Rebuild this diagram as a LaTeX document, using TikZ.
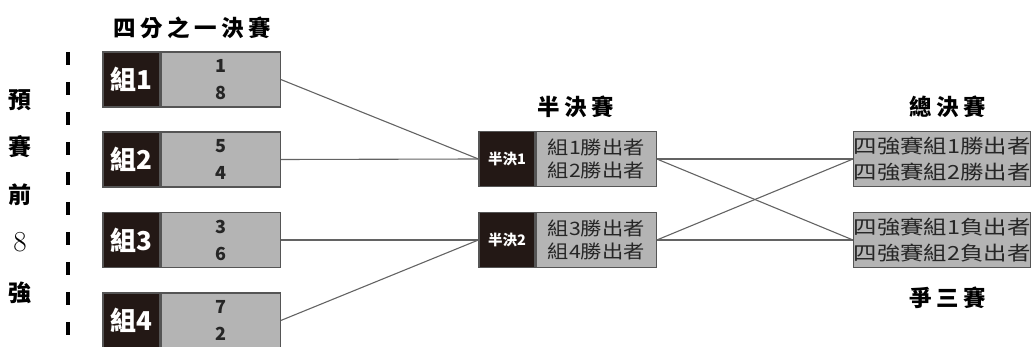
\documentclass[tikz,border=0pt]{standalone}
\usepackage{fontspec}
\newfontfamily\cjk{Noto Sans CJK TC}
\newfontfamily\cjkwide[FakeStretch=1.2]{Noto Sans CJK TC}
\newfontfamily\cjksemi[FakeStretch=1.15]{Noto Sans CJK TC}
\newfontfamily\cjktitle[LetterSpace=20]{Noto Sans CJK TC}
\usetikzlibrary{positioning}

\definecolor{tagdark}{HTML}{231815}
\definecolor{slotgray}{HTML}{B4B4B4}
\definecolor{edgegray}{HTML}{555555}
\definecolor{linkgray}{HTML}{636363}

\tikzset{
  tag/.style={fill=tagdark, draw=edgegray, line width=1.2pt, text=white, inner sep=0, minimum height=55pt},
  slot/.style={fill=slotgray, draw=edgegray, line width=1.2pt, inner sep=0, minimum height=55pt, align=center, text=black!85},
  link/.style={draw=linkgray, line width=1.1pt},
  stage/.style={font=\cjktitle\bfseries\fontsize{22.5}{25}\selectfont},
  seed/.style={font=\cjk\bfseries\fontsize{23}{25}\selectfont}
}

\begin{document}
\begin{tikzpicture}[x=1pt, y=-1pt]

  \useasboundingbox (0,0) rectangle (1031,347);

  % quarter finals
  \node[stage] (qtitle) at (192,28) {四分之一決賽};
  \node[tag, minimum width=57pt, font=\cjk\bfseries\fontsize{26}{28}\selectfont] (g1) at (131.5,79.5) {組1};
  \node[slot, right=0pt of g1, minimum width=119pt, font=\cjk\bfseries\fontsize{18}{27}\selectfont] (g1p) {1\\8};
  \node[tag, minimum width=57pt, font=\cjk\bfseries\fontsize{26}{28}\selectfont] (g2) at (131.5,159.5) {組2};
  \node[slot, right=0pt of g2, minimum width=119pt, font=\cjk\bfseries\fontsize{18}{27}\selectfont] (g2p) {5\\4};
  \node[tag, minimum width=57pt, font=\cjk\bfseries\fontsize{26}{28}\selectfont] (g3) at (131.5,240) {組3};
  \node[slot, right=0pt of g3, minimum width=119pt, font=\cjk\bfseries\fontsize{18}{27}\selectfont] (g3p) {3\\6};
  \node[tag, minimum width=57pt, font=\cjk\bfseries\fontsize{26}{28}\selectfont] (g4) at (131.5,320.5) {組4};
  \node[slot, right=0pt of g4, minimum width=119pt, font=\cjk\bfseries\fontsize{18}{27}\selectfont] (g4p) {7\\2};

  % seeds
  \node[seed] (seed1) at (20,100) {預};
  \node[seed] (seed2) at (20,147) {賽};
  \node[seed] (seed3) at (20,195) {前};
  \node[font=\fontsize{29}{30}\selectfont] (seed4) at (20,242) {8};
  \node[seed] (seed5) at (20,293) {強};
  \coordinate (dtop) at (68,52);
  \coordinate (dbot) at (68,347);
  \draw[line width=3.5pt, dash pattern=on 13pt off 17pt] (dtop) -- (dbot);

  % semi finals
  \node[stage] (stitle) at (576,107) {半決賽};
  \node[tag, minimum width=56pt, font=\cjk\bfseries\fontsize{14.5}{16}\selectfont] (s1) at (507,159) {半決1};
  \node[slot, right=0pt of s1, minimum width=120pt, font=\cjksemi\fontsize{18.5}{23}\selectfont] (s1p) {組1勝出者\\組2勝出者};
  \node[tag, minimum width=56pt, font=\cjk\bfseries\fontsize{14.5}{16}\selectfont] (s2) at (507,240) {半決2};
  \node[slot, right=0pt of s2, minimum width=120pt, font=\cjksemi\fontsize{18.5}{23}\selectfont] (s2p) {組3勝出者\\組4勝出者};

  % finals
  \node[stage] (ftitle) at (948,107) {總決賽};
  \node[slot, minimum width=176pt, font=\cjkwide\fontsize{19.5}{26}\selectfont] (fin) at (942,159) {四強賽組1勝出者\\四強賽組2勝出者};
  \node[slot, minimum width=176pt, font=\cjkwide\fontsize{19.5}{26}\selectfont] (third) at (942,240) {四強賽組1負出者\\四強賽組2負出者};
  \node[stage] (ttitle) at (948,298) {爭三賽};

  \draw[link] (g1p.east) -- (s1.west);
  \draw[link] (g2p.east) -- (s1.west);
  \draw[link] (g3p.east) -- (s2.west);
  \draw[link] (g4p.east) -- (s2.west);
  \draw[link] (s1p.east) -- (fin.west);
  \draw[link] (s1p.east) -- (third.west);
  \draw[link] (s2p.east) -- (fin.west);
  \draw[link] (s2p.east) -- (third.west);

\end{tikzpicture}
\end{document}
